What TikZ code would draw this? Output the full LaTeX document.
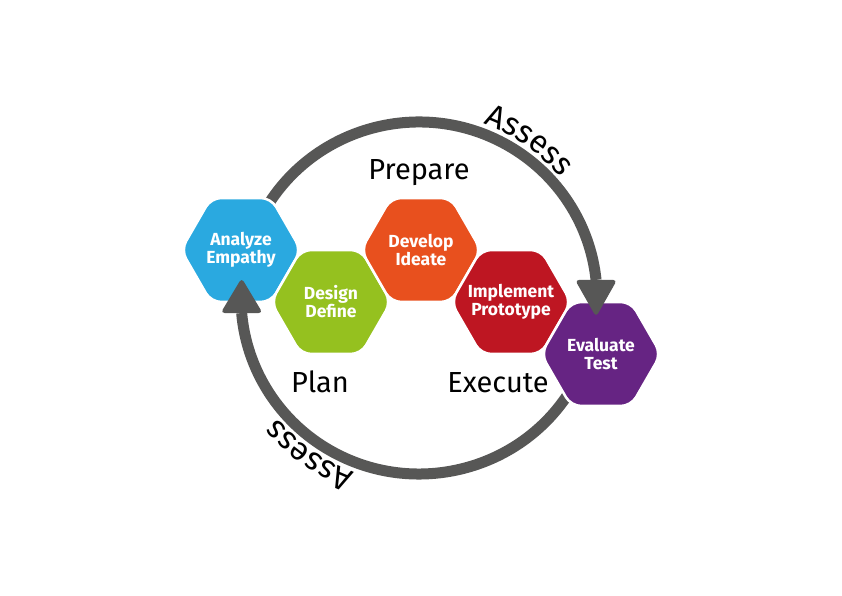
\documentclass[tikz,border=0pt]{standalone}
\usepackage{fontspec}
\setmainfont{Fira Sans}
\usetikzlibrary{decorations.text,shapes.geometric}
\definecolor{cblue}{HTML}{2AA9E0}
\definecolor{cgreen}{HTML}{95C11F}
\definecolor{corange}{HTML}{E8501E}
\definecolor{cred}{HTML}{BE1622}
\definecolor{cpurple}{HTML}{662483}
\definecolor{cgrey}{HTML}{575756}
\tikzset{
  hex/.style={regular polygon, regular polygon sides=6,
    minimum size=120pt, inner sep=0pt, rounded corners=10pt, draw=white, line width=2.5pt},
  hextext/.style={text=white, align=center, inner sep=0pt, font=\bfseries\fontsize{17.5}{18}\selectfont},
  cycleline/.style={draw=cgrey, line width=11pt},
  headtip/.style={fill=cgrey, rounded corners=4pt},
  phase/.style={font=\fontsize{29}{29}\selectfont, anchor=base}
}
\begin{document}
\begin{tikzpicture}[x=1pt,y=1pt]
\useasboundingbox (0,0) rectangle (842,596);
\fill[white] (0,0) rectangle (842,596);
\coordinate (C) at (419,298);
% cycle arcs
\draw[cycleline] (C) ++(150:178pt and 176pt) arc[start angle=150, end angle=5.9, x radius=178pt, y radius=176pt] coordinate (topend);
\draw[cycleline] (C) ++(-30:178pt and 176pt) arc[start angle=-30, end angle=-175.1, x radius=178pt, y radius=176pt] coordinate (botend);
% hexagons
\node[hex, fill=cblue, label={[hextext]center:Analyze\\Empathy}] (analyze) at (241,346) {};
\node[hex, fill=cgreen, label={[hextext]center:Design\\Define}] (design) at (331,294) {};
\node[hex, fill=corange, label={[hextext]center:Develop\\Ideate}] (develop) at (421,346) {};
\node[hex, fill=cred, label={[hextext]center:Implement\\Prototype}] (implement) at (511,294) {};
\node[hex, fill=cpurple, label={[hextext]center:Evaluate\\Test}] (evaluate) at (601,242) {};
% arrowheads
\path[headtip] ([xshift=-21pt]topend) -- ([xshift=21pt]topend) -- ([yshift=-37pt]topend) -- cycle;
\path[headtip] ([xshift=-21pt]botend) -- ([xshift=21pt]botend) -- ([yshift=35pt]botend) -- cycle;
% phase labels
\node[phase] (prepare) at (419,416) {Prepare};
\node[phase] (plan) at (320,203) {Plan};
\node[phase] (execute) at (498,203) {Execute};
% assess labels
\path[decorate, decoration={text along path, text={|\fontsize{32}{32}\selectfont|Assess}, text align=center}]
  (C) ++(85:186pt) arc[start angle=85, end angle=25, radius=186pt];
\path[decorate, decoration={text along path, text={|\fontsize{32}{32}\selectfont|Assess}, text align=center}]
  (C) ++(265:186pt) arc[start angle=265, end angle=205, radius=186pt];
\end{tikzpicture}
\end{document}
